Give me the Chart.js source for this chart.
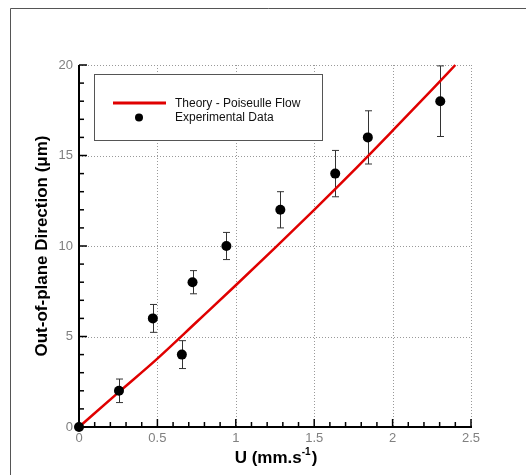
<!DOCTYPE html>
<html><head><meta charset="utf-8">
<script src="https://cdn.jsdelivr.net/npm/chart.js@4"></script>
<style>html,body{margin:0;padding:0;background:#fff}#c{display:block}</style></head>
<body><canvas id="c" width="526" height="475"></canvas>
<script>
const uExp = [0, 0.255, 0.471, 0.656, 0.724, 0.94, 1.284, 1.634, 1.842, 2.304];
const zExp = [0, 2, 6, 4, 8, 10, 12, 14, 16, 18];
const zErr = [0, 0.65, 0.77, 0.77, 0.64, 0.75, 1.0, 1.28, 1.47, 1.95];
const uTheory = [0, 0.25, 0.5, 0.75, 1, 1.25, 1.5, 1.75, 2, 2.25, 2.4];
const zTheory = [0, 1.9, 3.78, 5.8, 7.83, 9.9, 12.0, 14.15, 16.37, 18.62, 20];
const xTicks = [0, 0.5, 1, 1.5, 2, 2.5];
const yTicks = [0, 5, 10, 15, 20];
const xMinorStep = 0.1;
const yMinorStep = 1;
const legendLabels = ['Theory - Poiseulle Flow', 'Experimental Data'];
const xTitle = 'U (mm.s';
const xTitleSup = '-1';
const yTitle = 'Out-of-plane Direction (\u03bcm)';

const FONT = '"Liberation Sans", Arial, sans-serif';

const framePlugin = {
  id: 'frame',
  beforeDatasetsDraw(chart) {
    const ctx = chart.ctx, x = chart.scales.x, y = chart.scales.y, a = chart.chartArea;
    ctx.save();
    // outer frame
    ctx.strokeStyle = '#555'; ctx.lineWidth = 1;
    ctx.beginPath();
    ctx.moveTo(10.5, 475); ctx.lineTo(10.5, 8.5); ctx.lineTo(526, 8.5);
    ctx.stroke();
    // dotted grid
    ctx.strokeStyle = '#999'; ctx.lineWidth = 1; ctx.setLineDash([1, 2]);
    xTicks.forEach(v => { if (v === 0) return; const px = Math.round(x.getPixelForValue(v)) + 0.5;
      ctx.beginPath(); ctx.moveTo(px, a.top); ctx.lineTo(px, a.bottom); ctx.stroke(); });
    yTicks.forEach(v => { if (v === 0) return; const py = Math.round(y.getPixelForValue(v)) + 0.5;
      ctx.beginPath(); ctx.moveTo(a.left, py); ctx.lineTo(a.right, py); ctx.stroke(); });
    ctx.setLineDash([]);
    // axes
    ctx.strokeStyle = '#000'; ctx.lineWidth = 2;
    ctx.beginPath();
    ctx.moveTo(a.left, a.top); ctx.lineTo(a.left, a.bottom); ctx.lineTo(a.right + 1, a.bottom);
    ctx.stroke();
    // ticks
    ctx.lineWidth = 1.5;
    const nx = Math.round((x.max - x.min) / xMinorStep);
    for (let i = 0; i <= nx; i++) {
      const v = x.min + i * xMinorStep;
      const major = xTicks.some(t => Math.abs(t - v) < 1e-6);
      const px = x.getPixelForValue(v);
      ctx.beginPath(); ctx.moveTo(px, a.bottom); ctx.lineTo(px, a.bottom - (major ? 8 : 5)); ctx.stroke();
    }
    const ny = Math.round((y.max - y.min) / yMinorStep);
    for (let i = 0; i <= ny; i++) {
      const v = y.min + i * yMinorStep;
      const major = yTicks.some(t => Math.abs(t - v) < 1e-6);
      const py = y.getPixelForValue(v);
      ctx.beginPath(); ctx.moveTo(a.left, py); ctx.lineTo(a.left + (major ? 8 : 5), py); ctx.stroke();
    }
    // error bars
    ctx.strokeStyle = '#333'; ctx.lineWidth = 1;
    uExp.forEach((u, i) => {
      if (!zErr[i]) return;
      const px = Math.round(x.getPixelForValue(u)) + 0.5;
      const t = y.getPixelForValue(zExp[i] + zErr[i]);
      const b = y.getPixelForValue(zExp[i] - zErr[i]);
      ctx.beginPath();
      ctx.moveTo(px, t); ctx.lineTo(px, b);
      ctx.moveTo(px - 3.5, t); ctx.lineTo(px + 3.5, t);
      ctx.moveTo(px - 3.5, b); ctx.lineTo(px + 3.5, b);
      ctx.stroke();
    });
    ctx.restore();
  },
  afterDraw(chart) {
    const ctx = chart.ctx;
    ctx.save();
    // legend box
    ctx.fillStyle = '#fff';
    ctx.fillRect(94, 74, 228, 66);
    ctx.strokeStyle = '#555'; ctx.lineWidth = 1;
    ctx.strokeRect(94.5, 74.5, 228, 66);
    ctx.strokeStyle = '#e00000'; ctx.lineWidth = 3;
    ctx.beginPath(); ctx.moveTo(113, 103); ctx.lineTo(166, 103); ctx.stroke();
    ctx.fillStyle = '#000';
    ctx.beginPath(); ctx.arc(139, 117.5, 4, 0, Math.PI * 2); ctx.fill();
    ctx.font = '12px ' + FONT; ctx.textAlign = 'left'; ctx.textBaseline = 'middle';
    ctx.fillStyle = '#111';
    ctx.fillText(legendLabels[0], 175, 103.5);
    ctx.fillText(legendLabels[1], 175, 118);
    // x title
    ctx.fillStyle = '#000'; ctx.textBaseline = 'alphabetic';
    const big = 'bold 17px ' + FONT, small = 'bold 10px ' + FONT;
    ctx.font = big; const w1 = ctx.measureText(xTitle).width; const w3 = ctx.measureText(')').width;
    ctx.font = small; const w2 = ctx.measureText(xTitleSup).width;
    let sx = 276 - (w1 + w2 + w3 + 1) / 2;
    ctx.font = big; ctx.fillText(xTitle, sx, 463);
    ctx.font = small; ctx.fillText(xTitleSup, sx + w1, 455);
    ctx.font = big; ctx.fillText(')', sx + w1 + w2 + 1, 463);
    // y title
    ctx.translate(47, 246); ctx.rotate(-Math.PI / 2);
    ctx.textAlign = 'center'; ctx.font = big;
    ctx.fillText(yTitle, 0, 0);
    ctx.restore();
  }
};

new Chart(document.getElementById('c'), {
  data: {
    datasets: [
      { type: 'line', label: legendLabels[0],
        data: uTheory.map((u, i) => ({ x: u, y: zTheory[i] })),
        borderColor: '#e00000', borderWidth: 2.5, pointRadius: 0,
        cubicInterpolationMode: 'monotone', fill: false, order: 2, clip: false },
      { type: 'scatter', label: legendLabels[1],
        data: uExp.map((u, i) => ({ x: u, y: zExp[i] })),
        backgroundColor: '#000', borderColor: '#000', pointRadius: 5, borderWidth: 0,
        order: 1, clip: false }
    ]
  },
  options: {
    responsive: false, animation: false, devicePixelRatio: 1,
    layout: { padding: { left: 0, right: 55, top: 65, bottom: 0 } },
    plugins: { legend: { display: false }, tooltip: { enabled: false } },
    scales: {
      x: { type: 'linear', min: 0, max: 2.5,
        afterBuildTicks: s => { s.ticks = xTicks.map(v => ({ value: v })); },
        afterFit: s => { s.height = 48; },
        grid: { display: false, drawTicks: false }, border: { display: false },
        ticks: { color: '#808080', font: { family: FONT, size: 13 }, padding: 4,
          maxRotation: 0, autoSkip: false, callback: v => String(v) } },
      y: { type: 'linear', min: 0, max: 20,
        afterBuildTicks: s => { s.ticks = yTicks.map(v => ({ value: v })); },
        afterFit: s => { s.width = 79; },
        grid: { display: false, drawTicks: false }, border: { display: false },
        ticks: { color: '#808080', font: { family: FONT, size: 13 }, padding: 6,
          autoSkip: false, callback: v => String(v) } }
    }
  },
  plugins: [framePlugin]
});
</script>
</body></html>
